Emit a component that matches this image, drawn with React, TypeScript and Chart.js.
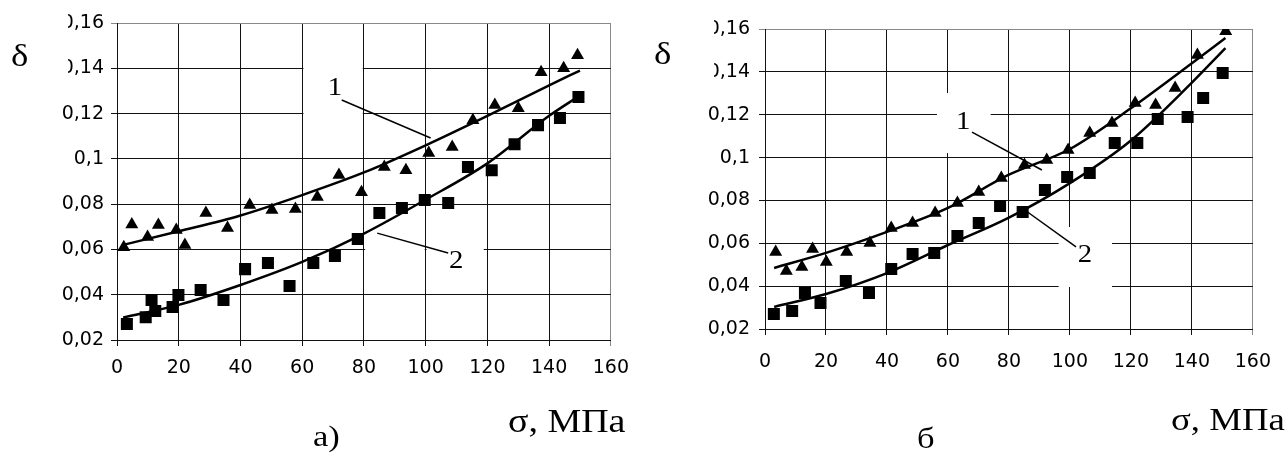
import React, { useEffect, useRef } from "react";
import { Chart, registerables } from "chart.js";

Chart.register(...registerables);

// ---------- Data: chart а) ----------
const A_TRI_X = [2.2, 4.8, 9.9, 13.4, 19.2, 22, 28.8, 35.8, 43, 50.2, 57.8, 64.9, 71.9, 79.2, 86.6, 93.6, 101, 108.6, 115.3, 122.4, 130, 137.4, 144.7, 149.2];
const A_TRI_Y = [0.061, 0.071, 0.0655, 0.0708, 0.0686, 0.062, 0.0761, 0.0695, 0.0796, 0.0774, 0.0778, 0.0831, 0.0929, 0.0853, 0.0964, 0.095, 0.1026, 0.1052, 0.117, 0.1238, 0.1224, 0.1383, 0.14, 0.1458];
const A_SQ_X = [3.2, 9.3, 11.2, 12.4, 18, 19.9, 27.1, 34.5, 41.5, 48.9, 55.9, 63.6, 70.6, 78, 85, 92.3, 99.7, 107.3, 113.7, 121.4, 128.8, 136.4, 143.5, 149.5];
const A_SQ_Y = [0.0271, 0.03, 0.0377, 0.0328, 0.0346, 0.0399, 0.0421, 0.0377, 0.0513, 0.054, 0.0438, 0.054, 0.0571, 0.0646, 0.0761, 0.0783, 0.0818, 0.0805, 0.0964, 0.095, 0.1065, 0.1149, 0.118, 0.1273];
const A_FIT1_X = [2, 20, 40, 60, 80, 100, 120, 140, 150];
const A_FIT1_Y = [0.062, 0.068, 0.075, 0.084, 0.094, 0.106, 0.119, 0.1325, 0.139];
const A_FIT2_X = [2, 20, 40, 60, 80, 100, 120, 140, 150];
const A_FIT2_Y = [0.03, 0.0355, 0.0443, 0.0545, 0.067, 0.082, 0.098, 0.119, 0.128];

// ---------- Data: chart б ----------
const B_TRI_X = [3.5, 7, 12.1, 15.6, 20.1, 26.8, 34.4, 41.4, 48.4, 55.8, 63.1, 70.1, 77.5, 85.1, 92.4, 99.4, 106.5, 113.8, 121.4, 128.1, 134.5, 141.8, 151.1];
const B_TRI_Y = [0.0559, 0.0471, 0.0489, 0.0573, 0.0513, 0.0559, 0.0601, 0.0671, 0.0695, 0.0741, 0.0788, 0.0839, 0.0905, 0.0965, 0.0989, 0.1035, 0.1115, 0.1161, 0.1255, 0.1245, 0.1325, 0.1479, 0.159];
const B_SQ_X = [2.9, 8.9, 13.1, 18.2, 26.5, 34.1, 41.4, 48.4, 55.5, 63.1, 70.1, 77.1, 84.5, 91.8, 99.1, 106.5, 114.7, 122.1, 128.8, 138.6, 143.7, 150.1];
const B_SQ_Y = [0.027, 0.0284, 0.0368, 0.0321, 0.0424, 0.0368, 0.048, 0.055, 0.0555, 0.0634, 0.0695, 0.0774, 0.0746, 0.0849, 0.0909, 0.0928, 0.1068, 0.1068, 0.118, 0.1189, 0.1278, 0.1395];
const B_FIT1_X = [3, 20, 40, 60, 80, 100, 120, 140, 151];
const B_FIT1_Y = [0.0485, 0.0555, 0.0653, 0.0765, 0.092, 0.104, 0.123, 0.144, 0.1558];
const B_FIT2_X = [3, 20, 40, 60, 80, 100, 120, 140, 151];
const B_FIT2_Y = [0.0303, 0.0363, 0.0461, 0.0592, 0.072, 0.0881, 0.108, 0.135, 0.1511];

// ---------- Axes ----------
const X_MIN = 0, X_MAX = 160, X_STEP = 20;
const Y_MIN = 0.02, Y_MAX = 0.16, Y_STEP = 0.02;

const zip = (xs: number[], ys: number[]) => xs.map((x, i) => ({ x, y: ys[i] }));

type Annot = {
  boxes: [number, number, number, number][]; // x0,x1,y0,y1 in data units
  labels: { text: string; x: number; y: number }[];
  leaders: [number, number, number, number][]; // x0,y0,x1,y1 data units
};

const A_ANNOT: Annot = {
  boxes: [
    [60.4, 79.6, 0.108, 0.155],
    [80.4, 99.7, 0.0585, 0.0615],
    [100.3, 118.8, 0.045, 0.066],
  ],
  labels: [
    { text: "1", x: 70.6, y: 0.1313 },
    { text: "2", x: 109.9, y: 0.0549 },
  ],
  leaders: [
    [72.8, 0.126, 101.6, 0.1092],
    [84.3, 0.0672, 107.3, 0.0584],
  ],
};

const B_ANNOT: Annot = {
  boxes: [
    [56.4, 74.0, 0.1021, 0.1301],
    [96.3, 113.8, 0.0396, 0.0676],
  ],
  labels: [
    { text: "1", x: 65.0, y: 0.1166 },
    { text: "2", x: 104.9, y: 0.0545 },
  ],
  leaders: [
    [67.9, 0.1119, 90.8, 0.0942],
    [86.1, 0.0746, 102.0, 0.0583],
  ],
};

type Cfg = {
  width: number;
  height: number;
  yAxisWidth: number;
  xAxisHeight: number;
  padTop: number;
  padRight: number;
  yPad: number;
  xPad: number;
  tri: { x: number; y: number }[];
  sq: { x: number; y: number }[];
  fit1: { x: number; y: number }[];
  fit2: { x: number; y: number }[];
  annot: Annot;
  clip: [number, number, number, number];
  delta: [number, number];
  sigma: [number, number];
  sigmaSize: number;
  sub: { text: string; x: number; y: number };
};

const SERIF = '"Liberation Serif", "Times New Roman", serif';
const STRETCH = 1.15;

function stretchedText(ctx: any, text: string, x: number, y: number, font: string, align = "left") {
  ctx.save();
  ctx.font = font;
  ctx.translate(x, y);
  ctx.scale(STRETCH, 1);
  ctx.textAlign = align;
  ctx.fillText(text, 0, 0);
  ctx.restore();
}

function makeChart(canvas: HTMLCanvasElement, c: Cfg) {
  const annotPlugin = {
    id: "annot",
    beforeDatasetsDraw(chart: any) {
      const ctx = chart.ctx;
      const xs = chart.scales.x, ys = chart.scales.y;
      ctx.save();
      ctx.fillStyle = "#fff";
      for (const [x0, x1, y0, y1] of c.annot.boxes) {
        const px0 = xs.getPixelForValue(x0), px1 = xs.getPixelForValue(x1);
        const py0 = ys.getPixelForValue(y1), py1 = ys.getPixelForValue(y0);
        ctx.fillRect(px0, py0, px1 - px0, py1 - py0);
      }
      ctx.strokeStyle = "#000";
      ctx.lineWidth = 1.5;
      for (const [x0, y0, x1, y1] of c.annot.leaders) {
        ctx.beginPath();
        ctx.moveTo(xs.getPixelForValue(x0), ys.getPixelForValue(y0));
        ctx.lineTo(xs.getPixelForValue(x1), ys.getPixelForValue(y1));
        ctx.stroke();
      }
      ctx.fillStyle = "#000";
      ctx.textBaseline = "middle";
      for (const l of c.annot.labels) {
        stretchedText(ctx, l.text, xs.getPixelForValue(l.x), ys.getPixelForValue(l.y), "25px " + SERIF, "center");
      }
      ctx.restore();
    },
    afterDraw(chart: any) {
      const ctx = chart.ctx;
      ctx.save();
      ctx.fillStyle = "#fff";
      ctx.fillRect(c.clip[0], c.clip[1], c.clip[2], c.clip[3]);
      ctx.fillStyle = "#000";
      ctx.textBaseline = "alphabetic";
      stretchedText(ctx, "δ", c.delta[0], c.delta[1], "32px " + SERIF);
      stretchedText(ctx, "σ, МПа", c.sigma[0], c.sigma[1], c.sigmaSize + "px " + SERIF);
      stretchedText(ctx, c.sub.text, c.sub.x, c.sub.y, "30px " + SERIF);
      ctx.restore();
    },
  };

  const tickFont = { family: '"DejaVu Sans", sans-serif', size: 19 };

  return new Chart(canvas, {
    type: "scatter",
    data: {
      datasets: [
        {
          data: c.fit1,
          showLine: true,
          borderColor: "#000",
          borderWidth: 2.5,
          pointRadius: 0,
          tension: 0.4,
          cubicInterpolationMode: "monotone",
          order: 2,
        } as any,
        {
          data: c.fit2,
          showLine: true,
          borderColor: "#000",
          borderWidth: 2.5,
          pointRadius: 0,
          tension: 0.4,
          cubicInterpolationMode: "monotone",
          order: 2,
        } as any,
        {
          data: c.tri,
          pointStyle: "triangle",
          pointRadius: 7.5,
          backgroundColor: "#000",
          borderColor: "#000",
          borderWidth: 0,
          order: 1,
        },
        {
          data: c.sq,
          pointStyle: "rect",
          pointRadius: 8.5,
          backgroundColor: "#000",
          borderColor: "#000",
          borderWidth: 0,
          order: 1,
        },
      ],
    },
    options: {
      animation: false,
      responsive: false,
      events: [],
      layout: { padding: { top: c.padTop, right: c.padRight, left: 0, bottom: 0 } },
      plugins: { legend: { display: false }, tooltip: { enabled: false } },
      scales: {
        x: {
          type: "linear",
          min: X_MIN,
          max: X_MAX,
          afterFit: (s: any) => {
            s.height = c.xAxisHeight;
          },
          ticks: {
            stepSize: X_STEP,
            autoSkip: false,
            maxRotation: 0,
            color: "#000",
            font: tickFont,
            padding: c.xPad,
          },
          grid: {
            color: (ctx: any) => (ctx.tick && ctx.tick.value === X_MAX ? "#888" : "#111"),
            lineWidth: 1,
            tickLength: 6,
          },
          border: { display: true, color: "#111", width: 1 },
        },
        y: {
          type: "linear",
          min: Y_MIN,
          max: Y_MAX,
          afterFit: (s: any) => {
            s.width = c.yAxisWidth;
          },
          ticks: {
            stepSize: Y_STEP,
            autoSkip: false,
            color: "#000",
            font: tickFont,
            padding: c.yPad,
            callback: (v: any) => String(Math.round(Number(v) * 100) / 100).replace(".", ","),
          },
          grid: {
            color: (ctx: any) =>
              ctx.tick && Math.abs(ctx.tick.value - Y_MAX) < 1e-9 ? "#888" : "#111",
            lineWidth: 1,
            tickLength: 6,
          },
          border: { display: true, color: "#111", width: 1 },
        },
      },
    } as any,
    plugins: [annotPlugin],
  });
}

const CFG_A: Cfg = {
  width: 640,
  height: 453,
  yAxisWidth: 117,
  xAxisHeight: 113,
  padTop: 23,
  padRight: 22,
  yPad: 7,
  xPad: 11,
  tri: zip(A_TRI_X, A_TRI_Y),
  sq: zip(A_SQ_X, A_SQ_Y),
  fit1: zip(A_FIT1_X, A_FIT1_Y),
  fit2: zip(A_FIT2_X, A_FIT2_Y),
  annot: A_ANNOT,
  clip: [0, 0, 68, 80],
  delta: [11, 66],
  sigma: [508, 432],
  sigmaSize: 33,
  sub: { text: "а)", x: 313, y: 446 },
};

const CFG_B: Cfg = {
  width: 647,
  height: 453,
  yAxisWidth: 125,
  xAxisHeight: 124,
  padTop: 29,
  padRight: 20,
  yPad: 9,
  xPad: 16,
  tri: zip(B_TRI_X, B_TRI_Y),
  sq: zip(B_SQ_X, B_SQ_Y),
  fit1: zip(B_FIT1_X, B_FIT1_Y),
  fit2: zip(B_FIT2_X, B_FIT2_Y),
  annot: B_ANNOT,
  clip: [0, 0, 74, 86],
  delta: [14, 64],
  sigma: [531, 430],
  sigmaSize: 32,
  sub: { text: "б", x: 277, y: 448 },
};

function Panel({ cfg, left }: { cfg: Cfg; left: number }) {
  const ref = useRef<HTMLCanvasElement | null>(null);
  useEffect(() => {
    if (!ref.current) return;
    const ch = makeChart(ref.current, cfg);
    return () => ch.destroy();
  }, [cfg]);
  return (
    <canvas
      ref={ref}
      width={cfg.width}
      height={cfg.height}
      style={{ position: "absolute", left, top: 0, width: cfg.width, height: cfg.height }}
    />
  );
}

export default function App() {
  return (
    <div
      style={{
        position: "fixed",
        left: 0,
        top: 0,
        width: 1287,
        height: 453,
        background: "#fff",
        overflow: "hidden",
      }}
    >
      <Panel cfg={CFG_A} left={0} />
      <Panel cfg={CFG_B} left={640} />
    </div>
  );
}
